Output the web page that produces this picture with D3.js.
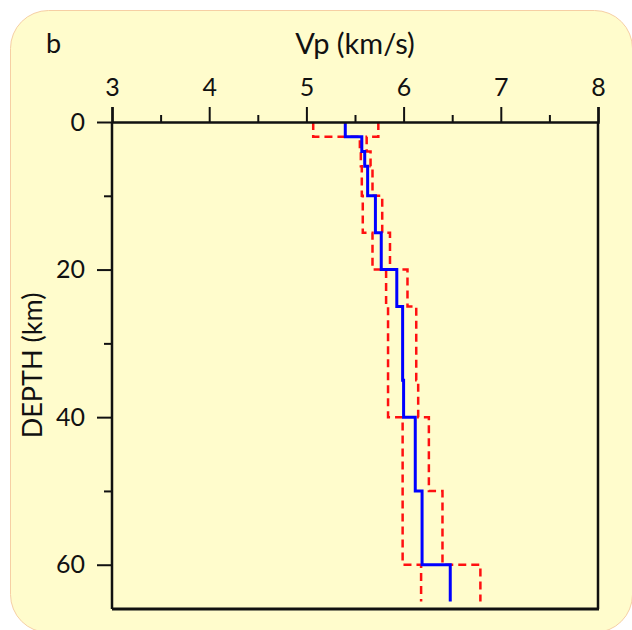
<!DOCTYPE html>
<html>
<head>
<meta charset="utf-8">
<script src="https://cdn.jsdelivr.net/npm/d3@7"></script>
<style>
  html, body { margin: 0; padding: 0; background: #ffffff; }
  svg { display: block; }
  text { font-family: Lato, "DejaVu Sans", sans-serif; fill: #111; }
</style>
</head>
<body>
<svg id="chart" width="632" height="630"></svg>
<script>
// ---- data ----
const layerTops   = [0, 2, 4, 6, 10, 15, 20, 25, 35, 40, 50, 60];
const layerBottom = 65;
const vpModel     = [5.40, 5.57, 5.60, 5.63, 5.71, 5.77, 5.93, 5.99, 6.00, 6.12, 6.19, 6.48];
const vpLower     = [5.07, 5.55, 5.56, 5.57, 5.58, 5.68, 5.82, 5.84, 5.84, 5.99, 5.99, 6.18];
const vpUpper     = [5.74, 5.62, 5.66, 5.68, 5.78, 5.86, 6.04, 6.13, 6.15, 6.26, 6.40, 6.79];
const xTicks      = [3, 4, 5, 6, 7, 8];
const xMinorTicks = [3.5, 4.5, 5.5, 6.5, 7.5];
const yTicks      = [0, 20, 40, 60];
const yMinorTicks = [10, 30, 50];

// ---- layout ----
const svg = d3.select("#chart");
const L = 112, R = 598, T = 122, B = 609;
const FONT = "Lato, 'DejaVu Sans', sans-serif";

svg.append("rect")
  .attr("x", 10.5).attr("y", 10.5)
  .attr("width", 622).attr("height", 622)
  .attr("rx", 38).attr("ry", 38)
  .attr("fill", "#fffccc")
  .attr("stroke", "#f6cfa4").attr("stroke-width", 1);

const x = d3.scaleLinear().domain([3, 8]).range([L, R]);
const y = d3.scaleLinear().domain([0, 66]).range([T, B]);

// step profile points
function profile(vals) {
  const pts = [];
  vals.forEach((v, i) => {
    const top = layerTops[i];
    const bot = i + 1 < layerTops.length ? layerTops[i + 1] : layerBottom;
    pts.push([v, top], [v, bot]);
  });
  return pts;
}
const line = d3.line().x(d => x(d[0])).y(d => y(d[1]));

const plot = svg.append("g");
plot.append("path").datum(profile(vpLower))
  .attr("d", line).attr("fill", "none")
  .attr("stroke", "#ff1010").attr("stroke-width", 2.5)
  .attr("stroke-dasharray", "8,5");
plot.append("path").datum(profile(vpUpper))
  .attr("d", line).attr("fill", "none")
  .attr("stroke", "#ff1010").attr("stroke-width", 2.5)
  .attr("stroke-dasharray", "8,5");
plot.append("path").datum(profile(vpModel))
  .attr("d", line).attr("fill", "none")
  .attr("stroke", "#0000ff").attr("stroke-width", 3);

// frame: right & bottom
svg.append("line").attr("x1", R).attr("x2", R).attr("y1", T).attr("y2", B)
  .attr("stroke", "#111").attr("stroke-width", 2.5);
svg.append("line").attr("x1", L).attr("x2", R + 1).attr("y1", B).attr("y2", B)
  .attr("stroke", "#111").attr("stroke-width", 3);

// top axis
const xAxis = d3.axisTop(x).tickValues(xTicks).tickSize(15).tickPadding(11)
  .tickFormat(d3.format("d"));
const gx = svg.append("g").attr("transform", `translate(0,${T})`).call(xAxis);
gx.select(".domain").attr("stroke", "#111").attr("stroke-width", 2.5);
gx.selectAll(".tick line").attr("stroke", "#111").attr("stroke-width", 2);
gx.selectAll(".tick text").attr("font-size", 25).attr("font-family", FONT).attr("fill", "#111");
const gxm = svg.append("g").attr("transform", `translate(0,${T})`)
  .call(d3.axisTop(x).tickValues(xMinorTicks).tickSize(7).tickFormat(""));
gxm.select(".domain").remove();
gxm.selectAll(".tick line").attr("stroke", "#111").attr("stroke-width", 2);

// left axis
const yAxis = d3.axisLeft(y).tickValues(yTicks).tickSize(15).tickPadding(12)
  .tickFormat(d3.format("d"));
const gy = svg.append("g").attr("transform", `translate(${L},0)`).call(yAxis);
gy.select(".domain").attr("d", `M0,${T}V${B}`).attr("stroke", "#111").attr("stroke-width", 2.5);
gy.selectAll(".tick line").attr("stroke", "#111").attr("stroke-width", 2);
gy.selectAll(".tick text").attr("font-size", 25).attr("font-family", FONT).attr("fill", "#111");
const gym = svg.append("g").attr("transform", `translate(${L},0)`)
  .call(d3.axisLeft(y).tickValues(yMinorTicks).tickSize(8).tickFormat(""));
gym.select(".domain").remove();
gym.selectAll(".tick line").attr("stroke", "#111").attr("stroke-width", 2);

// titles
svg.append("text").attr("x", (L + R) / 2).attr("y", 54)
  .attr("text-anchor", "middle").attr("font-size", 29).text("Vp (km/s)");
svg.append("text").attr("x", 46).attr("y", 53)
  .attr("font-size", 27).text("b");
svg.append("text")
  .attr("transform", `translate(42,${(T + B) / 2}) rotate(-90)`)
  .attr("text-anchor", "middle").attr("font-size", 27).text("DEPTH (km)");
</script>
</body>
</html>
